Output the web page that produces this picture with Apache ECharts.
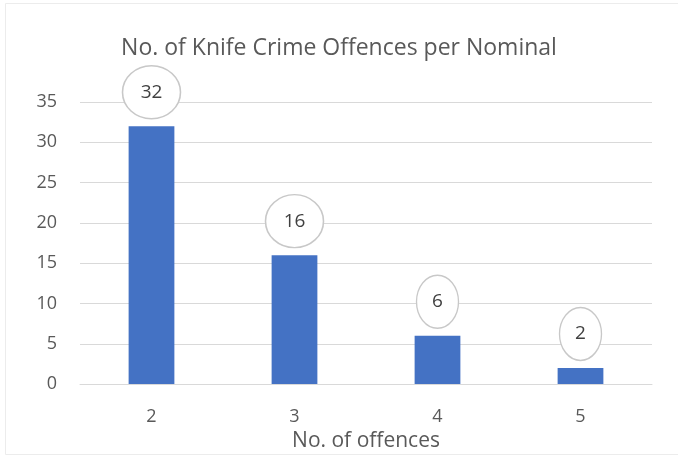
<!DOCTYPE html>
<html>
<head>
<meta charset="utf-8">
<script src="https://cdn.jsdelivr.net/npm/echarts@6/dist/echarts.min.js"></script>
<style>
html,body{margin:0;padding:0;background:#fff;}
#chart{width:678px;height:457px;}
</style>
</head>
<body>
<div id="chart"></div>
<script>
const titleText = "No. of Knife Crime Offences per Nominal";
const xAxisName = "No. of offences";
const categories = ["2", "3", "4", "5"];
const values = [32, 16, 6, 2];
const yTicks = [0, 5, 10, 15, 20, 25, 30, 35];

const FONT = "'Open Sans', 'Noto Sans', sans-serif";
const chart = echarts.init(document.getElementById('chart'), null, {renderer: 'canvas'});
chart.setOption({
  backgroundColor: '#ffffff',
  animation: false,
  title: {
    text: titleText,
    left: 'center',
    top: 32,
    textStyle: {fontFamily: FONT, fontSize: 23, fontWeight: 'normal', color: '#595959'}
  },
  graphic: [{
    type: 'rect', left: 3, top: 1, silent: true,
    shape: {width: 673, height: 451},
    style: {fill: 'none', stroke: '#ececec', lineWidth: 1}
  }],
  grid: {left: 80, right: 26, top: 102, bottom: 64},
  xAxis: {
    type: 'category',
    data: categories,
    name: xAxisName,
    nameLocation: 'middle',
    nameGap: 43,
    nameTextStyle: {fontFamily: FONT, fontSize: 21, color: '#595959'},
    axisLine: {lineStyle: {color: '#d9d9d9', width: 1}},
    axisTick: {show: false},
    axisLabel: {fontFamily: FONT, fontSize: 18, color: '#595959', margin: 24}
  },
  yAxis: {
    type: 'value',
    min: yTicks[0],
    max: yTicks[yTicks.length - 1],
    interval: yTicks[1] - yTicks[0],
    axisLine: {show: false},
    axisTick: {show: false},
    splitLine: {lineStyle: {color: '#d9d9d9', width: 1}},
    axisLabel: {fontFamily: FONT, fontSize: 18, color: '#595959', margin: 23}
  },
  series: [
    {
      type: 'bar',
      data: values,
      barWidth: '32%',
      itemStyle: {color: '#4472C4'}
    },
    {
      type: 'scatter',
      data: values,
      symbol: 'circle',
      symbolSize: function (v) { return String(v).length > 1 ? [58, 53] : [42, 53]; },
      symbolOffset: [0, -34],
      itemStyle: {color: '#ffffff', borderColor: '#c8c8c8', borderWidth: 1.5, opacity: 1},
      label: {
        show: true,
        position: 'inside',
        formatter: '{c}',
        fontFamily: FONT,
        fontSize: 19,
        color: '#404040'
      },
      z: 5
    }
  ]
});
</script>
</body>
</html>
